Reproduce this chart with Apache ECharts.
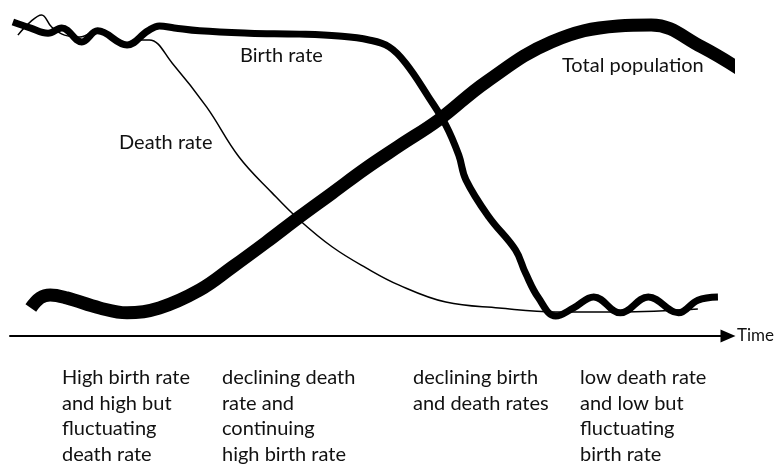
<!DOCTYPE html>
<html>
<head>
<meta charset="utf-8">
<title>Demographic transition</title>
<script src="https://cdn.jsdelivr.net/npm/echarts@6/dist/echarts.min.js"></script>
<style>
  html, body { margin: 0; padding: 0; background: #fff; }
  #main { width: 779px; height: 466px; }
</style>
</head>
<body>
<div id="main"></div>
<script>
// time goes 0..100 along the axis, level 0..100 upward (no real units)
var birthRate = [
  [0.4, 96.3], [2.8, 94.5], [5.3, 92.9], [7.2, 94.5], [10.0, 90.2], [12.2, 93.6],
  [16.3, 89.3], [19.2, 93.6], [20.8, 95.1], [22.9, 94.5], [26.4, 93.6], [33.3, 92.9],
  [40.3, 92.6], [45.8, 92.0], [50.0, 90.8], [52.8, 88.7], [55.1, 83.7], [58.3, 73.3],
  [60.7, 64.7], [62.5, 55.5], [63.5, 47.9], [66.7, 36.5], [70.4, 26.4], [71.8, 19.3],
  [73.6, 11.7], [76.0, 6.1], [78.5, 8.6], [81.3, 12.0], [85.0, 7.1], [88.9, 12.0],
  [93.1, 7.1], [95.8, 11.0], [98.6, 12.0]
];
var deathRate = [
  [1.1, 92.3], [2.8, 96.3], [4.4, 98.5], [5.8, 94.8], [7.6, 92.3], [9.7, 91.7],
  [12.5, 94.2], [14.6, 91.4], [16.3, 89.0], [18.1, 90.8], [19.4, 90.8], [22.6, 83.7],
  [27.4, 70.2], [31.9, 54.9], [36.5, 43.9], [40.3, 35.6], [44.9, 27.3], [49.6, 20.9],
  [54.2, 15.6], [60.7, 10.4], [68.1, 8.6], [76.0, 7.4], [84.7, 7.4], [95.8, 8.3]
];
var totalPopulation = [
  [2.9, 8.6], [4.2, 11.7], [5.6, 12.6], [7.9, 11.7], [12.5, 8.6], [16.3, 7.1],
  [20.8, 8.6], [26.4, 14.1], [31.0, 21.2], [35.7, 28.8], [40.3, 36.5], [44.9, 43.9],
  [49.6, 51.5], [54.2, 58.3], [59.7, 66.3], [66.3, 77.9], [75.4, 90.2], [84.7, 95.1],
  [89.3, 95.4], [96.3, 88.7], [103.5, 79.1]
];

var curveNames = ['Birth rate', 'Death rate', 'Total population'];
var stageTexts = [
  'High birth rate\nand high but\nfluctuating\ndeath rate',
  'declining death\nrate and\ncontinuing\nhigh birth rate',
  'declining birth\nand death rates',
  'low death rate\nand low but\nfluctuating\nbirth rate'
];
var axisName = 'Time';

var font = 'Lato, "Open Sans", sans-serif';
var myChart = echarts.init(document.getElementById('main'));

var graphics = [
  { type: 'text', left: 240, top: 46, style: { text: curveNames[0], font: '20px ' + font, fill: '#111' } },
  { type: 'text', left: 119, top: 133, style: { text: curveNames[1], font: '20px ' + font, fill: '#111' } },
  { type: 'text', left: 562, top: 56, style: { text: curveNames[2], font: '20px ' + font, fill: '#111' } }
];
var stageX = [62, 222, 413, 580];
for (var i = 0; i < stageTexts.length; i++) {
  graphics.push({
    type: 'text', left: stageX[i], top: 365,
    style: { text: stageTexts[i], font: '20px ' + font, fill: '#111', lineHeight: 25.5 }
  });
}

var option = {
  animation: false,
  backgroundColor: '#fff',
  grid: { left: 10, right: 51, top: 10, bottom: 130 },
  xAxis: {
    type: 'value', min: 0, max: 100,
    name: axisName, nameLocation: 'end', nameGap: 9,
    nameTextStyle: { fontFamily: 'Lato', fontSize: 17, color: '#111', verticalAlign: 'middle' },
    axisLine: { show: true, symbol: ['none', 'triangle'], symbolSize: [13, 15], lineStyle: { color: '#000', width: 2 } },
    axisTick: { show: false },
    axisLabel: { show: false },
    splitLine: { show: false }
  },
  yAxis: {
    type: 'value', min: 0, max: 100,
    show: false
  },
  series: [
    {
      name: curveNames[2], type: 'line', data: totalPopulation, smooth: 0.4,
      showSymbol: false, clip: false,
      lineStyle: { color: '#000', width: 13, cap: 'butt' }
    },
    {
      name: curveNames[0], type: 'line', data: birthRate, smooth: 0.4,
      showSymbol: false, clip: false,
      lineStyle: { color: '#000', width: 7, cap: 'butt' }
    },
    {
      name: curveNames[1], type: 'line', data: deathRate, smooth: 0.4,
      showSymbol: false, clip: false,
      lineStyle: { color: '#000', width: 1.5 }
    }
  ],
  graphic: graphics
};

myChart.setOption(option);
</script>
</body>
</html>
